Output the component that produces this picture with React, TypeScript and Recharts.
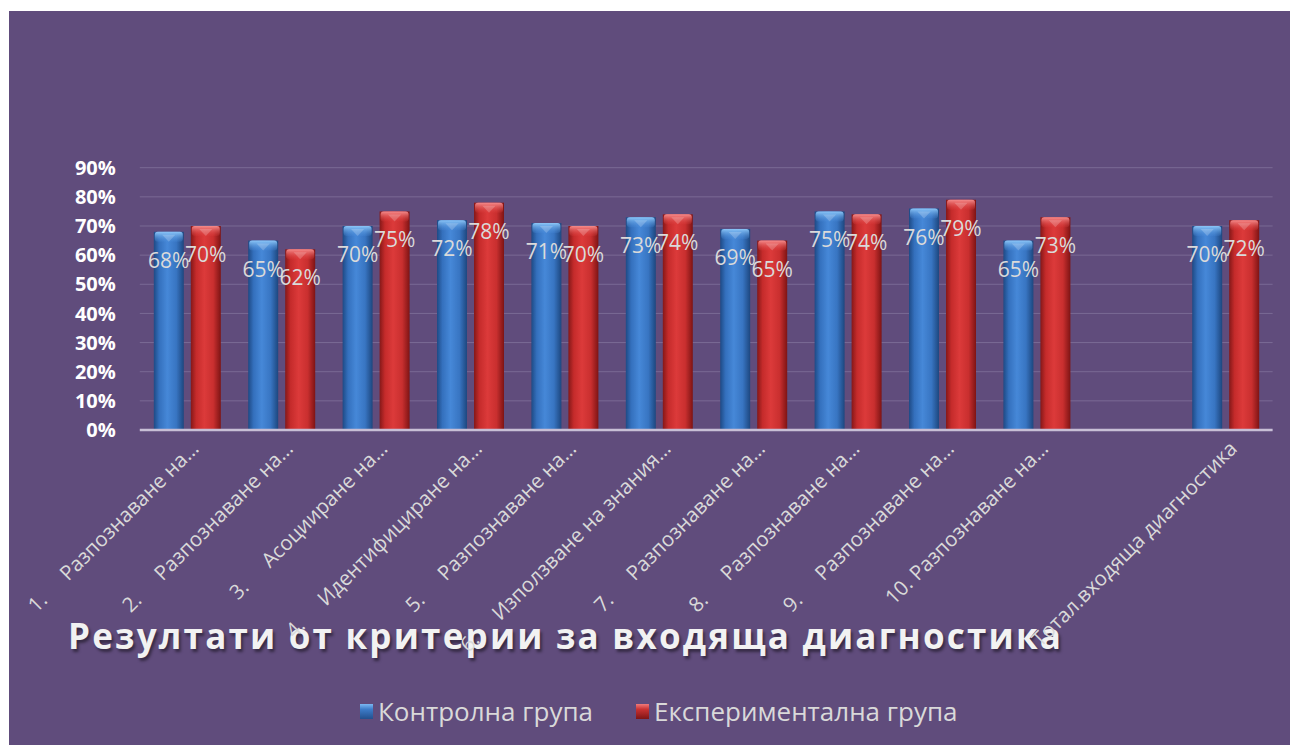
import React from 'react';
import { BarChart, Bar, XAxis, YAxis, CartesianGrid, Legend, LabelList } from 'recharts';

const categories: string[] = [
  '1.\tРазпознаване на…',
  '2.\tРазпознаване на…',
  '3.\tАсоцииране на…',
  '4.\tИдентифициране на…',
  '5.\tРазпознаване на…',
  '6.\tИзползване на знания…',
  '7.\tРазпознаване на…',
  '8.\tРазпознаване на…',
  '9.\tРазпознаване на…',
  '10. Разпознаване на…',
  '',
  'Тотал.входяща диагностика',
];
const controlValues: (number | null)[] = [0.68, 0.65, 0.7, 0.72, 0.71, 0.73, 0.69, 0.75, 0.76, 0.65, null, 0.7];
const experimentalValues: (number | null)[] = [0.7, 0.62, 0.75, 0.78, 0.7, 0.74, 0.65, 0.74, 0.79, 0.73, null, 0.72];
const yTicks: number[] = [0, 0.1, 0.2, 0.3, 0.4, 0.5, 0.6, 0.7, 0.8, 0.9];
const seriesNames: string[] = ['Контролна група', 'Експериментална група'];
const chartTitle = 'Резултати от критерии за входяща диагностика';

const data = categories.map((name, i) => ({
  name,
  control: controlValues[i],
  experimental: experimentalValues[i],
}));

const FONT = "'Open Sans', 'DejaVu Sans', sans-serif";
const BG = '#604C7C';

const pct = (v: number) => `${Math.round(v * 100)}%`;

const Bar3D = (props: any) => {
  const { x, y, width, height, gradId, capId } = props;
  if (height == null || height <= 0 || x == null) return null;
  return (
    <g>
      <rect x={x} y={y} width={width} height={height} fill={`url(#${gradId})`} />
      <rect x={x + 1} y={y} width={width - 2} height={10} rx={3} fill={`url(#${capId})`} />
      <path
        d={`M${x + width * 0.28},${y + 3} L${x + width * 0.5},${y + 10} L${x + width * 0.72},${y + 3} Z`}
        fill="#ffffff"
        opacity={0.2}
      />
    </g>
  );
};

const XTick = (props: any) => {
  const { x, y, payload } = props;
  const v = String(payload?.value ?? '');
  if (!v) return null;
  const parts = v.split('\t');
  return (
    <text
      transform={`translate(${x + 13},${y + 20}) rotate(-45)`}
      textAnchor="end"
      fill="#D9D9D9"
      fontSize={20.5}
      fontFamily={FONT}
    >
      {parts.length > 1 ? (
        <>
          <tspan>{parts[0]}</tspan>
          <tspan dx={28}>{parts[1]}</tspan>
        </>
      ) : (
        v
      )}
    </text>
  );
};

const renderValueLabel = (props: any) => {
  const { x, y, width, value } = props;
  if (value == null || x == null) return null;
  return (
    <text
      x={x + width / 2}
      y={y + 36}
      textAnchor="middle"
      fill="#DADADA"
      fontSize={21}
      fontFamily={FONT}
    >
      {pct(Number(value))}
    </text>
  );
};

const legendSwatch = [
  'linear-gradient(to bottom, #7CB8F2 0%, #3D7CC9 35%, #23508E 100%)',
  'linear-gradient(to bottom, #F07A7A 0%, #C93232 35%, #7E1515 100%)',
];

const renderLegend = () => (
  <div
    style={{
      display: 'flex',
      alignItems: 'center',
      height: 32,
      fontFamily: FONT,
      fontSize: 26,
      color: '#D9D9D9',
      whiteSpace: 'nowrap',
    }}
  >
    {seriesNames.map((n, i) => (
      <div key={n} style={{ display: 'flex', alignItems: 'center', marginRight: i === 0 ? 43 : 0 }}>
        <span
          style={{
            display: 'inline-block',
            width: 13,
            height: 15,
            background: legendSwatch[i],
            marginRight: 5,
          }}
        />
        <span>{n}</span>
      </div>
    ))}
  </div>
);

export default function App() {
  return (
    <div
      style={{
        position: 'fixed',
        left: 9,
        top: 11,
        width: 1281,
        height: 734,
        background: BG,
        overflow: 'hidden',
      }}
    >
      <div
        style={{
          position: 'absolute',
          left: 59,
          top: 607,
          fontFamily: FONT,
          fontWeight: 700,
          fontSize: 35,
          lineHeight: '35px',
          letterSpacing: 2.2,
          color: '#F2F2F2',
          textShadow: '2px 3px 3px rgba(0,0,0,0.45)',
          whiteSpace: 'nowrap',
          zIndex: 0,
        }}
      >
        {chartTitle}
      </div>
      <div style={{ position: 'relative', zIndex: 1 }}>
        <BarChart
          width={1281}
          height={734}
          data={data}
          margin={{ top: 156.7, right: 17.4, left: 0, bottom: 0 }}
          barCategoryGap={14}
          barGap={7}
        >
          <defs>
            <linearGradient id="blueGrad" x1="0" y1="0" x2="1" y2="0">
              <stop offset="0%" stopColor="#1E4A85" />
              <stop offset="18%" stopColor="#3470BD" />
              <stop offset="45%" stopColor="#4688D8" />
              <stop offset="75%" stopColor="#3875C2" />
              <stop offset="100%" stopColor="#1D477F" />
            </linearGradient>
            <linearGradient id="redGrad" x1="0" y1="0" x2="1" y2="0">
              <stop offset="0%" stopColor="#851818" />
              <stop offset="18%" stopColor="#C52B2B" />
              <stop offset="45%" stopColor="#DC3A3A" />
              <stop offset="75%" stopColor="#C92F2F" />
              <stop offset="100%" stopColor="#7E1414" />
            </linearGradient>
            <linearGradient id="blueCap" x1="0" y1="0" x2="0" y2="1">
              <stop offset="0%" stopColor="#8CC6F7" />
              <stop offset="100%" stopColor="#4A8CDA" stopOpacity={0.2} />
            </linearGradient>
            <linearGradient id="redCap" x1="0" y1="0" x2="0" y2="1">
              <stop offset="0%" stopColor="#F48C8C" />
              <stop offset="100%" stopColor="#DC3A3A" stopOpacity={0.2} />
            </linearGradient>
          </defs>
          <CartesianGrid vertical={false} stroke="#7A6A95" strokeWidth={1} />
          <XAxis
            dataKey="name"
            interval={0}
            height={315}
            tickSize={0}
            tickMargin={0}
            tickLine={false}
            axisLine={{ stroke: '#C8BFD6', strokeWidth: 2.5 }}
            tick={<XTick />}
          />
          <YAxis
            domain={[0, 0.9]}
            ticks={yTicks}
            width={130.8}
            tickSize={0}
            tickMargin={24}
            tickLine={false}
            axisLine={false}
            tickFormatter={pct}
            tick={{ fill: '#FFFFFF', fontSize: 20, fontWeight: 700, fontFamily: FONT }}
          />
          <Legend
            layout="horizontal"
            verticalAlign="middle"
            align="center"
            wrapperStyle={{ top: 684, left: 351, width: 800, height: 32 }}
            content={renderLegend}
          />
          <Bar
            dataKey="control"
            name={seriesNames[0]}
            isAnimationActive={false}
            shape={(p: any) => <Bar3D {...p} gradId="blueGrad" capId="blueCap" />}
          >
            <LabelList dataKey="control" content={renderValueLabel} />
          </Bar>
          <Bar
            dataKey="experimental"
            name={seriesNames[1]}
            isAnimationActive={false}
            shape={(p: any) => <Bar3D {...p} gradId="redGrad" capId="redCap" />}
          >
            <LabelList dataKey="experimental" content={renderValueLabel} />
          </Bar>
        </BarChart>
      </div>
    </div>
  );
}
